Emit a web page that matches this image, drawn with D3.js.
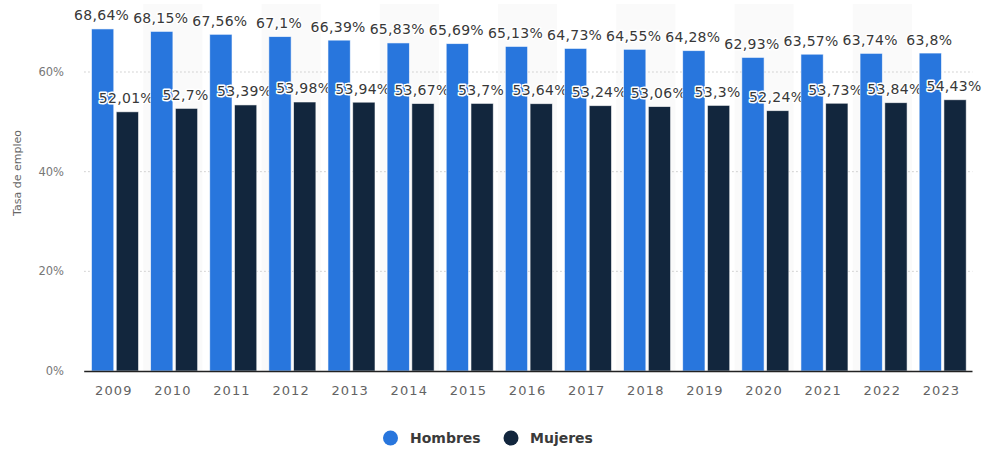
<!DOCTYPE html>
<html>
<head>
<meta charset="utf-8">
<script src="https://cdn.jsdelivr.net/npm/d3@7"></script>
<style>
  html, body { margin: 0; padding: 0; background: #fff; }
  svg { display: block; }
</style>
</head>
<body>
<svg id="chart" width="984" height="451"></svg>
<script>
const years = ["2009","2010","2011","2012","2013","2014","2015","2016","2017","2018","2019","2020","2021","2022","2023"];
const hombres = [68.64, 68.15, 67.56, 67.1, 66.39, 65.83, 65.69, 65.13, 64.73, 64.55, 64.28, 62.93, 63.57, 63.74, 63.8];
const mujeres = [52.01, 52.7, 53.39, 53.98, 53.94, 53.67, 53.7, 53.64, 53.24, 53.06, 53.3, 52.24, 53.73, 53.84, 54.43];
const seriesNames = ["Hombres", "Mujeres"];
const seriesColors = ["#2876dd", "#12263d"];
const yTicks = [0, 20, 40, 60];
const yTitle = "Tasa de empleo";

const fmt = v => String(v).replace(".", ",") + "%";

const svg = d3.select("#chart");
const plotLeft = 84.2, plotRight = 971, plotTop = 4, plotBottom = 371;

const x0 = d3.scaleBand().domain(years).range([plotLeft, plotRight]).padding(0);
const step = x0.bandwidth();
const x1 = d3.scaleBand().domain(seriesNames).range([7.3, step - 4.8]).paddingInner(0.1);
const y = d3.scaleLinear().domain([0, 60]).range([plotBottom, 72]);

// alternating background bands
svg.append("g").selectAll("rect").data(years.filter((d, i) => i % 2 === 1)).join("rect")
  .attr("x", d => x0(d)).attr("y", plotTop)
  .attr("width", step).attr("height", plotBottom - plotTop)
  .attr("fill", "#fafafa");

// gridlines
svg.append("g").selectAll("line").data(yTicks.filter(t => t > 0)).join("line")
  .attr("x1", plotLeft).attr("x2", plotRight + 1.5)
  .attr("y1", d => y(d)).attr("y2", d => y(d))
  .attr("stroke", "#c8c8c8").attr("stroke-width", 1).attr("stroke-dasharray", "1.5,2.5");

// y tick labels
svg.append("g").selectAll("text").data(yTicks).join("text")
  .attr("x", 64).attr("y", d => y(d)).attr("dy", "0.35em")
  .attr("text-anchor", "end")
  .attr("font-family", "DejaVu Sans, sans-serif").attr("font-size", 11.5)
  .attr("fill", "#777")
  .text(d => d + "%");

// y axis title
svg.append("text")
  .attr("transform", "translate(21,173) rotate(-90)")
  .attr("text-anchor", "middle")
  .attr("font-family", "DejaVu Sans, sans-serif").attr("font-size", 11)
  .attr("fill", "#666")
  .text(yTitle);

const data = years.map((yr, i) => ({ year: yr, values: [
  { key: "Hombres", value: hombres[i], color: seriesColors[0] },
  { key: "Mujeres", value: mujeres[i], color: seriesColors[1] }
]}));

const groups = svg.append("g").selectAll("g").data(data).join("g")
  .attr("transform", d => `translate(${x0(d.year)},0)`);

groups.selectAll("rect").data(d => d.values).join("rect")
  .attr("x", d => x1(d.key)).attr("width", x1.bandwidth())
  .attr("y", d => y(d.value)).attr("height", d => plotBottom - y(d.value))
  .attr("fill", d => d.color)
  .attr("stroke", "rgba(255,255,255,0.7)").attr("stroke-width", 0.8);

// baseline
svg.append("line").attr("x1", plotLeft).attr("x2", plotRight + 1.5)
  .attr("y1", plotBottom + 0.5).attr("y2", plotBottom + 0.5)
  .attr("stroke", "#222").attr("stroke-width", 1.5);

// x labels
svg.append("g").selectAll("text").data(years).join("text")
  .attr("x", d => x0(d) + step / 2).attr("y", 395)
  .attr("text-anchor", "middle")
  .attr("font-family", "DejaVu Sans, sans-serif").attr("font-size", 13)
  .attr("letter-spacing", "1.1px")
  .attr("fill", "#636363")
  .text(d => d);

// value labels: Hombres first, then Mujeres on top
["Hombres", "Mujeres"].forEach(key => {
  groups.append("text")
    .datum(d => d.values.find(v => v.key === key))
    .attr("x", d => x1(d.key) + x1.bandwidth() / 2 - 1)
    .attr("y", d => y(d.value) - 8.5)
    .attr("text-anchor", "middle")
    .attr("font-family", "DejaVu Sans, sans-serif").attr("font-size", 14)
    .attr("letter-spacing", "0.3px")
    .attr("fill", "#383838")
    .attr("stroke", "#fff").attr("stroke-width", 3).attr("stroke-linejoin", "round")
    .attr("paint-order", "stroke")
    .text(d => fmt(d.value));
});

// legend
const legendItems = [
  { name: seriesNames[0], color: seriesColors[0], cx: 390.5, tx: 410 },
  { name: seriesNames[1], color: seriesColors[1], cx: 511, tx: 530 }
];
const lg = svg.append("g");
lg.selectAll("circle").data(legendItems).join("circle")
  .attr("cx", d => d.cx).attr("cy", 438).attr("r", 7.5)
  .attr("fill", d => d.color);
lg.selectAll("text").data(legendItems).join("text")
  .attr("x", d => d.tx).attr("y", 438).attr("dy", "0.36em")
  .attr("font-family", "DejaVu Sans, sans-serif").attr("font-size", 14)
  .attr("font-weight", "bold")
  .attr("fill", "#3a3a3a")
  .text(d => d.name);
</script>
</body>
</html>
